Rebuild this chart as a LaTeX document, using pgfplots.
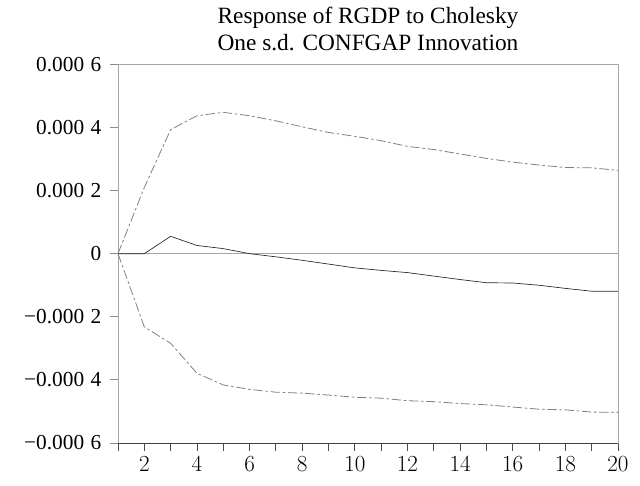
\documentclass[border=0pt]{standalone}
\usepackage{fontspec}
\setmainfont{Liberation Serif}
\usepackage{pgfplots}
\pgfplotsset{compat=1.18}

\pgfplotstableread{
x  resp       upper      lower
1  0.000000   0.000000   0.000000
2  0.000000   0.000210  -0.000232
3  0.000055   0.000393  -0.000284
4  0.000026   0.000437  -0.000379
5  0.000016   0.000448  -0.000416
6  0.000000   0.000437  -0.000430
7 -0.000010   0.000421  -0.000439
8 -0.000021   0.000402  -0.000442
9 -0.000033   0.000384  -0.000448
10 -0.000045  0.000372  -0.000455
11 -0.000053  0.000358  -0.000458
12 -0.000060  0.000340  -0.000466
13 -0.000071  0.000330  -0.000469
14 -0.000082  0.000316  -0.000475
15 -0.000092  0.000302  -0.000479
16 -0.000093  0.000290  -0.000486
17 -0.000100  0.000281  -0.000493
18 -0.000110  0.000273  -0.000495
19 -0.000119  0.000272  -0.000502
20 -0.000119  0.000264  -0.000503
}\irf

\newcommand{\gap}{\kern0.3em}

\begin{document}
\begin{tikzpicture}[x=0.75pt,y=0.75pt]
\begin{axis}[
    scale only axis, width=375pt, height=284pt,
    xmin=1, xmax=20, ymin=-0.0006, ymax=0.0006,
    axis line style={black!35, line width=0.6pt},
    xtick={2,4,...,20}, minor xtick={1,3,...,19},
    xtick pos=bottom, ytick pos=left,
    tick align=outside,
    major tick length=6pt, minor tick length=6pt,
    x tick style={black!70, line width=0.6pt},
    y tick style={black!45, line width=0.6pt},
    scaled y ticks=false,
    ytick={-0.0006,-0.0004,-0.0002,0,0.0002,0.0004,0.0006},
    yticklabels={−0.000\gap6, −0.000\gap4, −0.000\gap2, 0, 0.000\gap2, 0.000\gap4, 0.000\gap6},
    xticklabel style={font=\fontsize{17}{19}\selectfont, yshift=-1pt},
    yticklabel style={font=\fontsize{16}{18}\selectfont, xshift=-3pt},
    title style={font=\fontsize{17.5}{20.3}\selectfont, align=center,
                 at={(0.5,1)}, anchor=south, inner sep=0pt, yshift=4pt},
    title={Response of RGDP to Cholesky\\One s.d. CONFGAP Innovation},
    clip=false,
]
\draw[black!35, line width=0.6pt] (rel axis cs:0,0.5) -- (rel axis cs:1,0.5);
\draw[black!75, line width=0.6pt] (rel axis cs:0,0) -- (rel axis cs:1,0);
\addplot[black!85, line width=0.5pt] table[x=x, y=resp] {\irf};
\addplot[black!50, line width=0.6pt, dash pattern=on 7pt off 2pt on 2pt off 2pt] table[x=x, y=upper] {\irf};
\addplot[black!50, line width=0.6pt, dash pattern=on 7pt off 2pt on 2pt off 2pt] table[x=x, y=lower] {\irf};
\end{axis}
\pgfresetboundingbox
\path (-88.5pt,-32.25pt) rectangle (391.5pt,332.25pt);
\end{tikzpicture}
\end{document}
